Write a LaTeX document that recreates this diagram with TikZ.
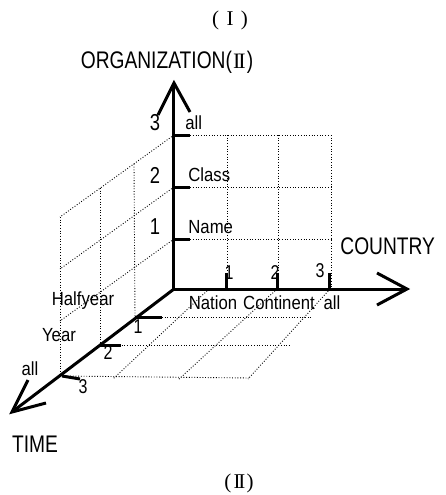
\documentclass[tikz,border=0pt]{standalone}
\usepackage{fontspec}
\setmainfont{Liberation Sans}
\newfontfamily\bigsans[FakeStretch=0.8]{Liberation Sans}
\newfontfamily\smallsans[FakeStretch=0.88]{Liberation Sans}
\newfontfamily\romannum{Liberation Serif}
\newcommand{\RomTwo}{{\romannum I\kern-0.1em I}}
\usetikzlibrary{calc}
\tikzset{
  axisline/.style={line width=1.5pt},
  tickline/.style={line width=1.5pt},
  gridline/.style={line width=0.45pt, dash pattern=on 0.45pt off 0.9pt},
  biglab/.style={font=\bigsans\fontsize{12}{14}\selectfont, inner sep=0pt},
  numlab/.style={font=\bigsans\fontsize{11.5}{13}\selectfont, inner sep=0pt},
  smallnum/.style={font=\bigsans\fontsize{10}{12}\selectfont, inner sep=0pt},
  smalllab/.style={font=\smallsans\fontsize{9.5}{11}\selectfont, inner sep=0pt},
  titlelab/.style={font=\romannum\fontsize{10.5}{12}\selectfont, inner sep=0pt}
}
\begin{document}
\begin{tikzpicture}[x=0.5pt,y=-0.5pt]
\useasboundingbox (0,0) rectangle (446,495);
% key coordinates
\coordinate (O) at (174,289);
\coordinate (ztip) at (174,83);
\coordinate (xtip) at (407,289);
\coordinate (ttip) at (12,412);
\coordinate (z1) at (174,239);
\coordinate (z2) at (174,187);
\coordinate (z3) at (174,135);
\coordinate (x1) at (227,289);
\coordinate (x2) at (278,289);
\coordinate (x3) at (330,289);
\coordinate (t1) at (135,317);
\coordinate (t2) at (100,345);
\coordinate (t3) at (62,376);
% back wall grid
\draw[gridline] (z1) -- (331,239);
\draw[gridline] (z2) -- (331,187);
\draw[gridline] (z3) -- (331,135);
\draw[gridline] (227,135) -- (x1);
\draw[gridline] (278,135) -- (x2);
\draw[gridline] (331,135) -- (331,289);
% side wall grid
\draw[gridline] (z3) -- (60,217);
\draw[gridline] (z2) -- (60,269);
\draw[gridline] (z1) -- (60,321);
\draw[gridline] (60,217) -- (60,376);
\draw[gridline] (100,188) -- (t2);
\draw[gridline] (134,164) -- (t1);
% floor grid
\draw[gridline] (t1) -- (313,317);
\draw[gridline] (t2) -- (290,345);
\draw[gridline] (t3) -- (250,378);
\draw[gridline] (209,289) -- (113,379);
\draw[gridline] (277,289) -- (178,380);
\draw[gridline] (330,289) -- (248,379);
% axes
\draw[axisline] (O) -- (ztip);
\draw[axisline] ($(ztip)+(-16,32)$) -- (ztip) -- ($(ztip)+(16,29)$);
\draw[axisline] (O) -- (xtip);
\draw[axisline] ($(xtip)+(-30,-16)$) -- (xtip) -- ($(xtip)+(-30,16)$);
\draw[axisline] (O) -- (ttip);
\draw[axisline] (28,380) -- (ttip) -- (46,403);
% ticks
\draw[tickline] (z1) -- ++(16,0);
\draw[tickline] (z2) -- ++(16,0);
\draw[tickline] (z3) -- ++(16,0);
\draw[tickline] (x1) -- ++(0,-16);
\draw[tickline] (x2) -- ++(0,-16);
\draw[tickline] (x3) -- ++(0,-16);
\draw[tickline] (t1) -- ++(27,0);
\draw[tickline] (t2) -- ++(21,0);
\draw[tickline] (t3) -- (80,379);
% titles
\node[titlelab] (title1) at (230,20) {(\hspace{0.35em}I\hspace{0.35em})};
\node[titlelab] (title2) at (239,483) {(\hspace{0.1em}\RomTwo\hspace{0.05em})};
% axis names
\node[biglab] (org) at (167,62) {ORGANIZATION(\hspace{0.05em}{\romannum\fontsize{11}{13}\selectfont\RomTwo}\hspace{0.05em})};
\node[biglab, anchor=west] (country) at (340,246) {COUNTRY};
\node[biglab] (time) at (35,444) {TIME};
% z labels
\node[numlab] (zn3) at (155,123) {3};
\node[numlab] (zn2) at (155,175) {2};
\node[numlab] (zn1) at (155,227) {1};
\node[smalllab, anchor=west] (zl3) at (185,123) {all};
\node[smalllab, anchor=west] (zl2) at (188,175) {Class};
\node[smalllab, anchor=west] (zl1) at (188,227) {Name};
% x labels
\node[smallnum] (xn1) at (229,273) {1};
\node[smallnum] (xn2) at (275,273) {2};
\node[smallnum] (xn3) at (320,271) {3};
\node[smalllab] (xl1) at (213,303) {Nation};
\node[smalllab] (xl2) at (279,303) {Continent};
\node[smalllab] (xl3) at (332,303) {all};
% t labels
\node[smallnum] (tn1) at (138,327) {1};
\node[smallnum] (tn2) at (108,353) {2};
\node[smallnum] (tn3) at (83,387) {3};
\node[smalllab] (tl1) at (83,301) {Halfyear};
\node[smalllab] (tl2) at (59,335) {Year};
\node[smalllab] (tl3) at (30,369) {all};
\end{tikzpicture}
\end{document}
